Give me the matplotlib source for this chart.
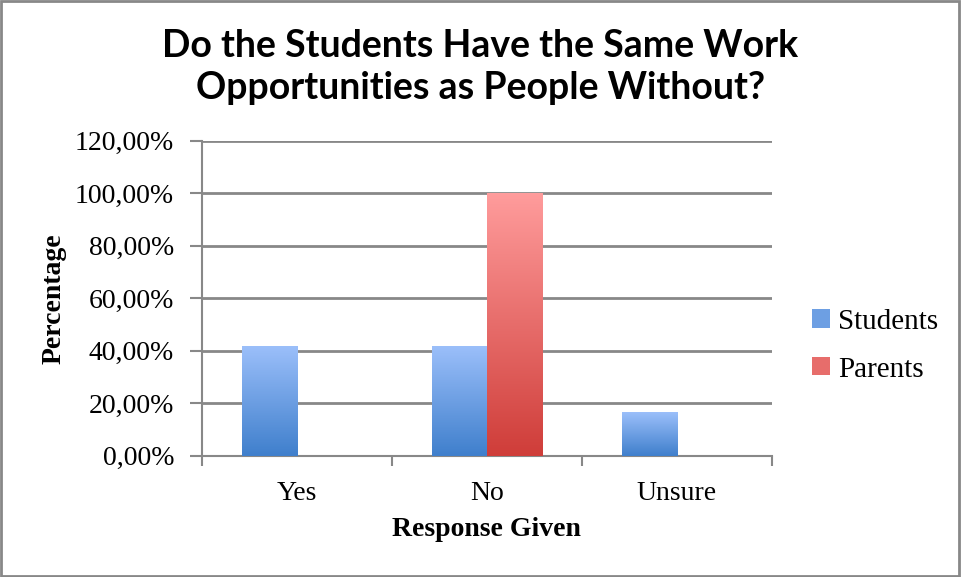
import numpy as np
import matplotlib.pyplot as plt
from matplotlib import font_manager
from matplotlib.colors import LinearSegmentedColormap
from matplotlib.patches import Rectangle
from matplotlib.ticker import FuncFormatter

categories = ["Yes", "No", "Unsure"]
students = [41.67, 41.67, 16.67]
parents = [0.0, 100.0, 0.0]
series_names = ["Students", "Parents"]

# narrow bold font for the title if one is around
names = {f.name for f in font_manager.fontManager.ttflist}
if "Liberation Sans Narrow" in names:
    title_font, title_size = ["Liberation Sans Narrow"], 32
else:
    title_font, title_size = ["Lato", "DejaVu Sans"], 27
serif_font = ["Liberation Serif", "DejaVu Serif"]

blue_grad = LinearSegmentedColormap.from_list("blue", ["#3f7fcc", "#9bbffa"])
red_grad = LinearSegmentedColormap.from_list("red", ["#cf3d39", "#ff9c9c"])

fig = plt.figure(figsize=(9.61, 5.77), dpi=100)
ax = fig.add_axes([0.210, 0.210, 0.593, 0.546])

x = np.arange(len(categories))
w = 0.29
gradient = np.linspace(0, 1, 256).reshape(-1, 1)


def gradient_bars(xpos, vals, cmap, label):
    bars = ax.bar(xpos, vals, w, align="edge", color=cmap(0.5), label=label,
                  zorder=3, linewidth=0)
    for b in bars:
        if b.get_height() <= 0:
            continue
        bx, by = b.get_x(), b.get_y()
        bw, bh = b.get_width(), b.get_height()
        # soft shadow
        ax.add_patch(Rectangle((bx + 0.008, by), bw, bh, color="#000000", alpha=0.08,
                               zorder=2, linewidth=0))
        im = ax.imshow(gradient, cmap=cmap, origin="lower", aspect="auto",
                       extent=[bx, bx + bw, by, by + bh], zorder=4)
        im.set_clip_path(b)
    return bars


gradient_bars(x - w, students, blue_grad, series_names[0])
gradient_bars(x, parents, red_grad, series_names[1])

ax.set_xlim(-0.5, 2.5)
ax.set_ylim(0, 120)
ax.set_yticks(np.arange(0, 121, 20))
ax.yaxis.set_major_formatter(FuncFormatter(lambda v, p: f"{v:.2f}%".replace(".", ",")))
ax.set_xticks(x)
ax.set_xticklabels(categories)
ax.set_xticks([-0.5, 0.5, 1.5, 2.5], minor=True)
ax.tick_params(axis="x", which="major", length=0, pad=18)
ax.tick_params(axis="x", which="minor", length=7, width=1.5, color="#888888", direction="out")
ax.tick_params(axis="y", length=9, width=1.5, color="#888888", pad=11)
for lbl in ax.get_xticklabels() + ax.get_yticklabels():
    lbl.set_fontfamily(serif_font)
    lbl.set_fontsize(20)

ax.grid(axis="y", color="#888888", linewidth=2, zorder=0)
ax.set_axisbelow(True)
for s in ["top", "right"]:
    ax.spines[s].set_visible(False)
for s in ["left", "bottom"]:
    ax.spines[s].set_color("#888888")
    ax.spines[s].set_linewidth(1.5)

ax.set_xlabel("Response Given", fontfamily=serif_font, fontweight="bold", fontsize=20, labelpad=8)
ax.set_ylabel("Percentage", fontfamily=serif_font, fontweight="bold", fontsize=20, labelpad=6)

fig.suptitle("Do the Students Have the Same Work\nOpportunities as People Without?",
             fontfamily=title_font, fontweight="bold", fontsize=title_size, y=0.95,
             linespacing=1.3)

leg = ax.legend(loc="center left", bbox_to_anchor=(1.025, 0.35), frameon=False,
                prop={"family": serif_font, "size": 21}, handlelength=0.6,
                handleheight=0.6, handletextpad=0.3, labelspacing=0.75)

fig.patches.append(Rectangle((0.001, 0.002), 0.997, 0.996, transform=fig.transFigure,
                             fill=False, edgecolor="#888888", linewidth=2))

fig.savefig("out.png", dpi=100)
